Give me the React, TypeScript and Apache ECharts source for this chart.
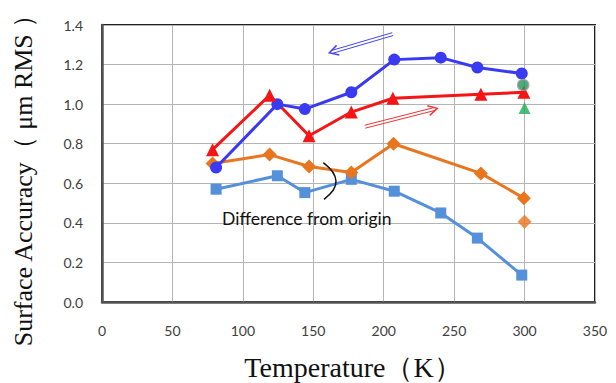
import React, { useEffect, useRef } from "react";
import * as echarts from "echarts";

// ---- data ----
const xTicks = [0, 50, 100, 150, 200, 250, 300, 350];
const yTicks = [0, 0.2, 0.4, 0.6, 0.8, 1.0, 1.2, 1.4];

const coolingT = [81, 124.5, 144, 177, 207.5, 240.5, 266.5, 298];
const coolingV = [0.68, 1.0, 0.975, 1.06, 1.225, 1.235, 1.185, 1.155];

const warmingT = [78.5, 119, 147, 177, 206.5, 269, 299.5];
const warmingV = [0.77, 1.045, 0.84, 0.96, 1.03, 1.05, 1.06];

const warmDiffT = [78.5, 119, 147, 177, 207, 269, 299.5];
const warmDiffV = [0.70, 0.745, 0.685, 0.655, 0.80, 0.65, 0.525];

const coolDiffT = [81, 124.5, 144, 177, 207.5, 240.5, 266.5, 298];
const coolDiffV = [0.57, 0.638, 0.553, 0.62, 0.56, 0.45, 0.323, 0.136];

const greenCircle = [[299, 1.097]];
const greenTriangle = [[300, 0.98]];
const orangeSingle = [[300, 0.405]];

// annotation anchors in data units
const blueArrow = { from: [206.4, 1.354], to: [161.4, 1.26] };
const redArrow = { from: [186.7, 0.886], to: [238, 0.979] };
const bracket = { top: [157.1, 0.704], bottom: [157.6, 0.519], ctrl: [174.9, 0.608] };
const noteText = "Difference from origin";
const notePos = [145.4, 0.423];

const zip = (xs: number[], ys: number[]) => xs.map((x, i) => [x, ys[i]]);

const LABEL_FONT = "Lato, 'Open Sans', sans-serif";
const TITLE_FONT = "'Liberation Serif', 'DejaVu Serif', serif";

function arrowGroup(chart: any, a: { from: number[]; to: number[] }, color: string) {
  const p0 = chart.convertToPixel({ gridIndex: 0 }, a.from);
  const p1 = chart.convertToPixel({ gridIndex: 0 }, a.to);
  const dx = p1[0] - p0[0];
  const dy = p1[1] - p0[1];
  const len = Math.sqrt(dx * dx + dy * dy);
  const ux = dx / len, uy = dy / len;
  const nx = -uy, ny = ux;
  const off = 1.5;
  const headLen = 9, headW = 5;
  const back = [p1[0] - ux * 3, p1[1] - uy * 3];
  const els: any[] = [];
  [-off, off].forEach((o) => {
    els.push({
      type: "line",
      shape: {
        x1: p0[0] + nx * o, y1: p0[1] + ny * o,
        x2: back[0] + nx * o, y2: back[1] + ny * o,
      },
      style: { stroke: color, lineWidth: 1 },
      silent: true,
    });
  });
  els.push({
    type: "polyline",
    shape: {
      points: [
        [p1[0] - ux * headLen + nx * headW, p1[1] - uy * headLen + ny * headW],
        [p1[0], p1[1]],
        [p1[0] - ux * headLen - nx * headW, p1[1] - uy * headLen - ny * headW],
      ],
    },
    style: { stroke: color, lineWidth: 1.5, fill: null },
    silent: true,
  });
  return els;
}

export default function App() {
  const ref = useRef<HTMLDivElement>(null);

  useEffect(() => {
    document.body.style.margin = "0";
    const chart = echarts.init(ref.current!, null, { renderer: "svg" });

    const lineSeries = (name: string, data: number[][], color: string, symbol: string, size: number) => ({
      name,
      type: "line",
      data,
      symbol,
      symbolSize: size,
      showSymbol: true,
      lineStyle: { color, width: 3 },
      itemStyle: { color },
      z: 3,
    });

    chart.setOption({
      animation: false,
      backgroundColor: "#ffffff",
      grid: {
        left: 102,
        top: 25,
        width: 493,
        height: 277,
        show: true,
        borderColor: "#222222",
        borderWidth: 2,
      },
      xAxis: {
        type: "value",
        min: xTicks[0],
        max: xTicks[xTicks.length - 1],
        interval: 50,
        axisLine: { show: true, lineStyle: { color: "#555555", width: 2.5 } },
        axisTick: { show: false },
        axisLabel: { color: "#404040", fontSize: 14, fontFamily: LABEL_FONT, margin: 21 },
        splitLine: { show: true, lineStyle: { color: "#b4b4b4", width: 1 } },
      },
      yAxis: {
        type: "value",
        min: yTicks[0],
        max: yTicks[yTicks.length - 1],
        interval: 0.2,
        axisLine: { show: true, lineStyle: { color: "#555555", width: 2.5 } },
        axisTick: { show: false },
        axisLabel: {
          color: "#404040",
          fontSize: 14,
          fontFamily: LABEL_FONT,
          margin: 19,
          formatter: (v: number) => v.toFixed(1),
        },
        splitLine: { show: true, lineStyle: { color: "#b4b4b4", width: 1 } },
      },
      series: [
        lineSeries("coolDiff", zip(coolDiffT, coolDiffV), "#5590da", "rect", 11),
        lineSeries("warmDiff", zip(warmDiffT, warmDiffV), "#e9761e", "diamond", 14),
        lineSeries("cooling", zip(coolingT, coolingV), "#3a3af2", "circle", 12),
        lineSeries("warming", zip(warmingT, warmingV), "#f51515", "triangle", 13),
        {
          name: "greenCircle",
          type: "scatter",
          data: greenCircle,
          symbol: "circle",
          symbolSize: 11,
          itemStyle: { color: "#23955a", borderColor: "#9a9a9a", borderWidth: 1.5 },
          z: 4,
        },
        {
          name: "greenTriangle",
          type: "scatter",
          data: greenTriangle,
          symbol: "triangle",
          symbolSize: 12,
          itemStyle: { color: "#1fab58" },
          z: 4,
        },
        {
          name: "orangeSingle",
          type: "scatter",
          data: orangeSingle,
          symbol: "diamond",
          symbolSize: 14,
          itemStyle: { color: "#e9761e" },
          z: 4,
        },
      ],
    });

    const bt = chart.convertToPixel({ gridIndex: 0 }, bracket.top);
    const bb = chart.convertToPixel({ gridIndex: 0 }, bracket.bottom);
    const bc = chart.convertToPixel({ gridIndex: 0 }, bracket.ctrl);
    const np = chart.convertToPixel({ gridIndex: 0 }, notePos);

    chart.setOption({
      graphic: [
        ...arrowGroup(chart, blueArrow, "#4646f0"),
        ...arrowGroup(chart, redArrow, "#f03535"),
        {
          type: "bezierCurve",
          shape: { x1: bt[0], y1: bt[1], x2: bb[0], y2: bb[1], cpx1: bc[0], cpy1: bc[1] },
          style: { stroke: "#111111", lineWidth: 1.5, fill: null },
          silent: true,
          z: 10,
        },
        {
          type: "text",
          x: np[0],
          y: np[1],
          style: {
            text: noteText,
            fill: "#111111",
            font: `17.5px ${LABEL_FONT}`,
            align: "center",
            verticalAlign: "middle",
          },
          z: 10,
        },
        {
          type: "text",
          x: 353,
          y: 367,
          style: {
            text: "Temperature（K）",
            fill: "#111111",
            font: `28px ${TITLE_FONT}`,
            align: "center",
            verticalAlign: "middle",
          },
        },
        {
          type: "text",
          x: 23,
          y: 174,
          rotation: Math.PI / 2,
          style: {
            text: "Surface Accuracy（ μm RMS ）",
            fill: "#111111",
            font: `26px ${TITLE_FONT}`,
            align: "center",
            verticalAlign: "middle",
          },
        },
      ],
    });

    return () => chart.dispose();
  }, []);

  return (
    <div
      ref={ref}
      style={{ position: "fixed", left: 0, top: 0, width: 616, height: 383, background: "#fff" }}
    />
  );
}
